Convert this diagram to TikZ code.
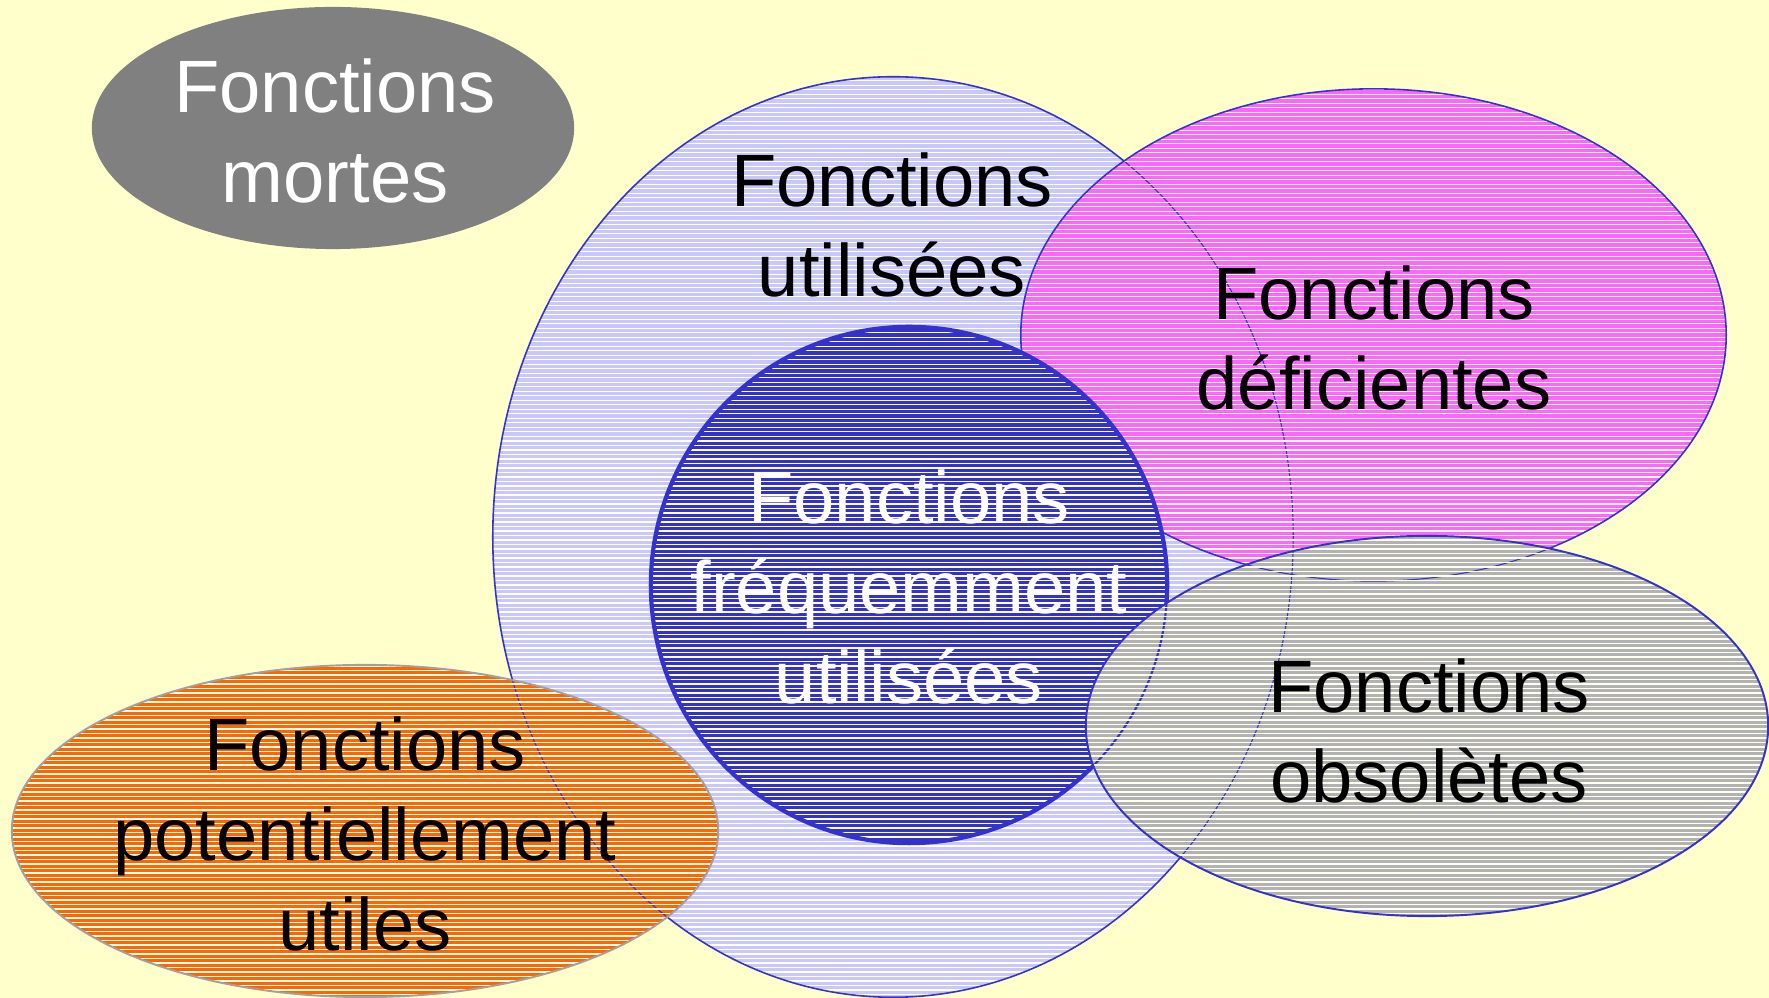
\documentclass[tikz,border=0pt]{standalone}
\usepackage{fontspec}
\setmainfont{Liberation Sans}
\definecolor{bg}{HTML}{FFFFCC}
\definecolor{mortgray}{HTML}{808080}
\definecolor{lav}{HTML}{C8C8FF}
\definecolor{edgeblue}{HTML}{3333CC}
\definecolor{cblue}{HTML}{3333CC}
\definecolor{mag}{HTML}{FF66FF}
\definecolor{obsgray}{HTML}{B2B2B2}
\definecolor{orng}{HTML}{FF6600}
\definecolor{orngedge}{HTML}{A0A0A0}
\definecolor{stripecol}{HTML}{FFFFF2}
\def\shUsed{(893,537) ellipse [x radius=4cm, y radius=4.6cm]}
\def\shDef{(1373.5,335) ellipse [x radius=3.525cm, y radius=2.46cm]}
\def\shFreq{(909,585) circle [radius=2.58cm]}
\def\shObs{(1427,726) ellipse [x radius=3.41cm, y radius=1.9cm]}
\def\shPot{(365,831) ellipse [x radius=3.53cm, y radius=1.66cm]}
\def\stripes{\draw[stripe] \foreach \yy in {0,4.5,...,999}{(0,\yy) -- (1769,\yy)};}
\begin{document}
\begin{tikzpicture}[x=0.01cm,y=-0.01cm,
  stripe/.style={draw=stripecol, line width=0.29pt},
  hidden/.style={draw=edgeblue, line width=0.3pt},
  edge/.style={draw=edgeblue, line width=0.45pt},
  lbl/.style={font=\fontsize{21.1}{25.6}\selectfont, align=center, inner sep=0pt}]
\useasboundingbox (0,0) rectangle (1769,998);
\fill[bg] (0,0) rectangle (1769,998);
% dead functions
\fill[mortgray] (333,128) ellipse [x radius=2.41cm, y radius=1.21cm];
% used functions
\fill[lav] \shUsed;
\begin{scope}\clip \shUsed; \stripes \end{scope}
\draw[edge] \shUsed;
% deficient functions
\fill[mag] \shDef;
\begin{scope}\clip \shDef; \draw[hidden] \shUsed; \stripes \end{scope}
\draw[edge] \shDef;
% frequently used
\fill[cblue] \shFreq;
\begin{scope}\clip \shFreq; \draw[hidden] \shDef; \stripes \end{scope}
\draw[draw=cblue, line width=1.2pt] \shFreq;
% obsolete
\fill[obsgray] \shObs;
\begin{scope}\clip \shObs; \draw[hidden] \shUsed; \draw[hidden] \shDef; \draw[hidden, line width=0.6pt] \shFreq; \stripes \end{scope}
\draw[edge, line width=0.55pt] \shObs;
% potentially useful
\fill[orng] \shPot;
\begin{scope}\clip \shPot; \draw[hidden] \shUsed; \stripes \end{scope}
\draw[draw=orngedge, line width=0.55pt] \shPot;
% labels
\node[lbl, text=white] (mortes) at (335,131) {Fonctions\\mortes};
\node[lbl] (util) at (892,225) {Fonctions\\utilisées};
\node[lbl] (defic) at (1374,338) {Fonctions\\déficientes};
\node[lbl, text=white] (freq) at (909,587) {Fonctions\\fréquemment\\utilisées};
\node[lbl] (obs) at (1429,731) {Fonctions\\obsolètes};
\node[lbl] (pot) at (365,834) {Fonctions\\potentiellement\\utiles};
\end{tikzpicture}
\end{document}
